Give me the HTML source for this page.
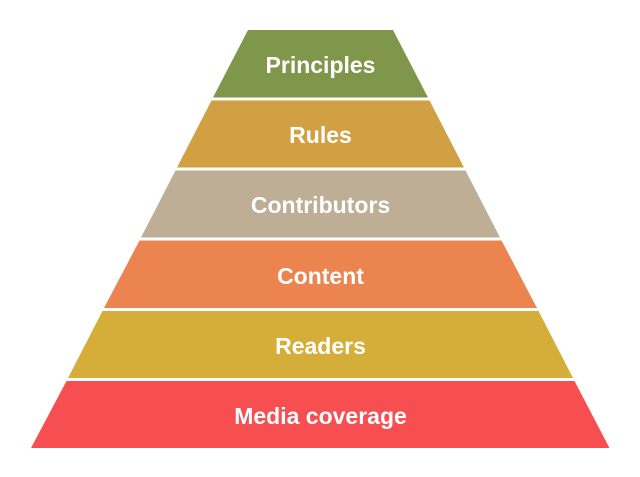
<!DOCTYPE html>
<html><head><meta charset="utf-8"><style>
html,body{margin:0;padding:0;background:#fff;width:640px;height:477px;overflow:hidden}
svg{display:block}
text{font-family:"Liberation Sans",sans-serif;font-weight:bold;font-size:23px;fill:#fff}
</style></head><body>
<svg width="640" height="477" viewBox="0 0 640 477">
<g>
<polygon points="248,30 393,30 428,97.5 213,97.5" fill="#7f964b"/>
<polygon points="211.5,100.5 429.5,100.5 464,167.5 177,167.5" fill="#d1a042"/>
<polygon points="175.5,170.5 465.5,170.5 500,237.5 141,237.5" fill="#bfae96"/>
<polygon points="139.5,240.5 501.5,240.5 537,308 104,308" fill="#ec8450"/>
<polygon points="102.5,311 538.5,311 573,378 68,378" fill="#d5ae3a"/>
<polygon points="66.5,381 574.5,381 609.5,448 31,448" fill="#f74e51"/>
</g>
<g text-anchor="middle">
<text x="320.5" y="73">Principles</text>
<text x="320.5" y="143">Rules</text>
<text x="320.5" y="213">Contributors</text>
<text x="320.5" y="284">Content</text>
<text x="320.5" y="354">Readers</text>
<text x="320.5" y="424">Media coverage</text>
</g>
</svg>
</body></html>
